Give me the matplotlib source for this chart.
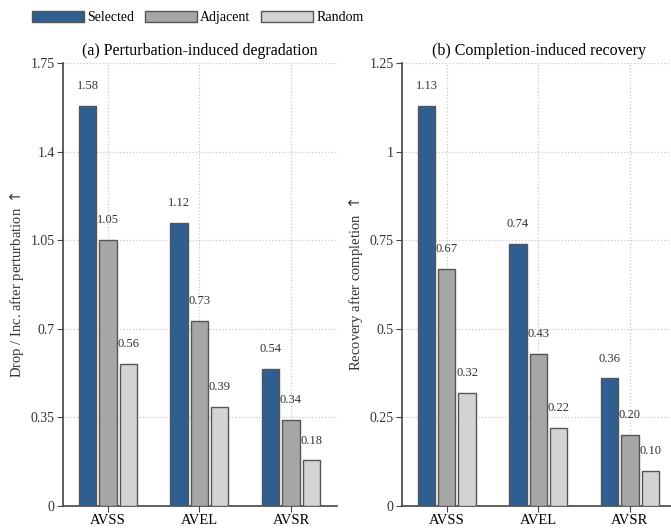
import numpy as np
import matplotlib.pyplot as plt
from matplotlib.patches import Patch

plt.rcParams['font.family'] = ['Liberation Serif', 'DejaVu Serif']

categories = ['AVSS', 'AVEL', 'AVSR']
series = ['Selected', 'Adjacent', 'Random']
drop_vals = {
    'Selected': [1.58, 1.12, 0.54],
    'Adjacent': [1.05, 0.73, 0.34],
    'Random': [0.56, 0.39, 0.18],
}
recov_vals = {
    'Selected': [1.13, 0.74, 0.36],
    'Adjacent': [0.67, 0.43, 0.20],
    'Random': [0.32, 0.22, 0.10],
}
colors = {'Selected': '#2f5e91', 'Adjacent': '#a6a6a6', 'Random': '#d4d4d4'}

fig = plt.figure(figsize=(6.71, 5.29), dpi=100)
ax1 = fig.add_axes([0.0939, 0.0435, 0.408, 0.837])
ax2 = fig.add_axes([0.599, 0.0435, 0.408, 0.837])

x = np.arange(len(categories))
width = 0.19
step = 0.222


def draw(ax, vals, ymax, yticks, yticklabels, title, ylabel):
    for i, s in enumerate(series):
        pos = x + (i - 1) * step
        bars = ax.bar(pos, vals[s], width, color=colors[s], edgecolor='#555555',
                      linewidth=1.0, zorder=3)
        for b, v in zip(bars, vals[s]):
            ax.annotate('%.2f' % v, (b.get_x() + b.get_width() / 2, v),
                        xytext=(0, 10), textcoords='offset points',
                        ha='center', va='bottom', fontsize=9, color='#333333')
    ax.set_xlim(-0.49, 2.5)
    ax.set_ylim(0, ymax)
    ax.set_xticks(x)
    ax.set_xticklabels(categories, fontsize=10.5)
    ax.set_yticks(yticks)
    ax.set_yticklabels(yticklabels, fontsize=10, color='#333333')
    ax.grid(True, linestyle=':', color='#c8c8c8', linewidth=0.9, zorder=0)
    for sp in ['top', 'right']:
        ax.spines[sp].set_visible(False)
    for sp in ['left', 'bottom']:
        ax.spines[sp].set_color('#444444')
        ax.spines[sp].set_linewidth(1.2)
    ax.tick_params(direction='out', length=4, color='#444444', pad=2)
    ax.set_title(title, fontsize=11.5, pad=6)
    ax.set_ylabel(ylabel, fontsize=10.5, color='#333333', labelpad=3)


draw(ax1, drop_vals, 1.75, [0, 0.35, 0.7, 1.05, 1.4, 1.75],
     ['0', '0.35', '0.7', '1.05', '1.4', '1.75'],
     '(a) Perturbation-induced degradation',
     'Drop / Inc. after perturbation $\\uparrow$')
draw(ax2, recov_vals, 1.25, [0, 0.25, 0.5, 0.75, 1, 1.25],
     ['0', '0.25', '0.5', '0.75', '1', '1.25'],
     '(b) Completion-induced recovery',
     'Recovery after completion $\\uparrow$')

handles = [Patch(facecolor=colors[s], edgecolor='#555555', label=s) for s in series]
fig.legend(handles=handles, loc='upper left', bbox_to_anchor=(32 / 671, 1 - 11 / 529),
           ncol=3, frameon=False, fontsize=10, handlelength=3.75, handleheight=0.86,
           handletextpad=0.2, columnspacing=0.8, borderpad=0, borderaxespad=0)

fig.savefig('out.png', dpi=100)
